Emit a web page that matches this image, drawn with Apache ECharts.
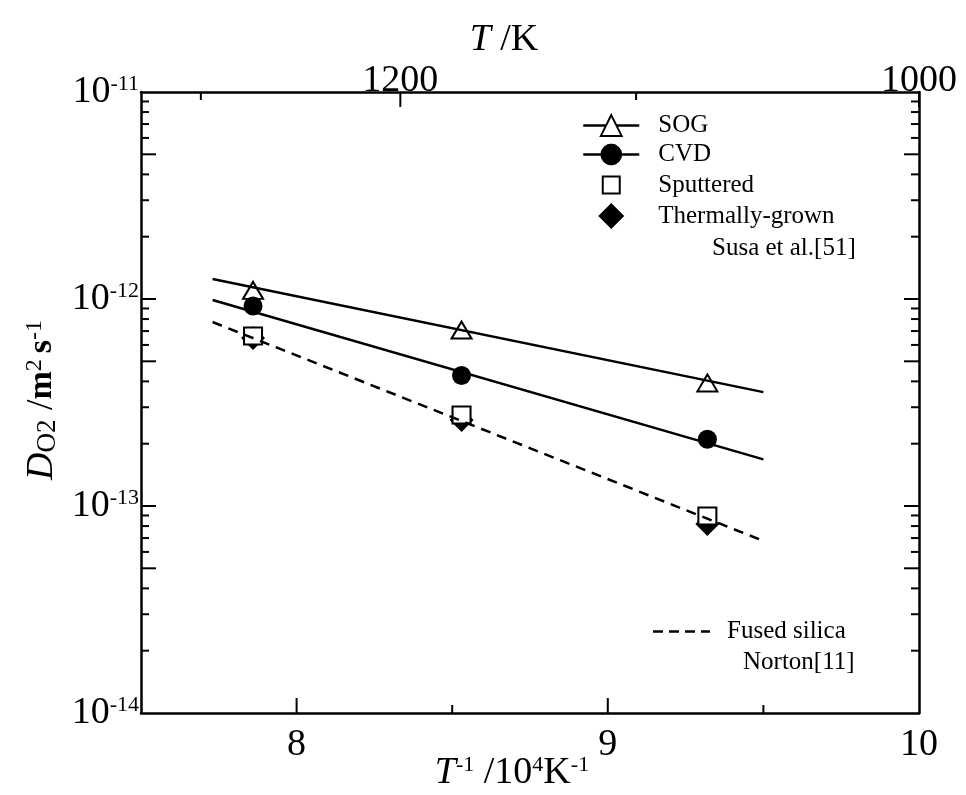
<!DOCTYPE html>
<html>
<head>
<meta charset="utf-8">
<script src="https://cdn.jsdelivr.net/npm/echarts@6/dist/echarts.min.js"></script>
<style>
  html, body { margin: 0; padding: 0; background: #fff; }
  #chart { width: 966px; height: 795px; }
</style>
</head>
<body>
<div id="chart"></div>
<script>
// Measured oxygen diffusivities versus inverse temperature (10^4 / T, K^-1)
const invT = [7.86, 8.53, 9.32];
const sogD = [1.10e-12, 7.08e-13, 3.93e-13];
const cvdD = [9.25e-13, 4.27e-13, 2.10e-13];
const sputteredD = [6.63e-13, 2.75e-13, 8.95e-14];
const thermalD = [6.48e-13, 2.60e-13, 8.19e-14];

// Arrhenius fit lines, given by their end points
const fitInvT = [7.73, 9.5];
const sogFit = [1.25e-12, 3.55e-13];
const cvdFit = [9.89e-13, 1.68e-13];
const fusedSilicaFit = [7.74e-13, 6.78e-14];

// Frame ticks
const xMajorTicks = [8, 9];
const xMinorTicks = [8.5, 9.5];
const tempMajorTicks = [1200, 1000];
const tempMinorTicks = [1300, 1100];
const yDecades = [1e-14, 1e-13, 1e-12];
const yMantissas = [2, 3, 4, 5, 6, 7, 8, 9];

const X_MIN = 7.5, X_MAX = 10, Y_MIN = 1e-14, Y_MAX = 1e-11;
const SERIF = '"Liberation Serif", "Times New Roman", serif';

const pairs = (xs, ys) => xs.map((x, i) => [x, ys[i]]);

// [x, y, side (0 left, 1 right, 2 bottom, 3 top), short?]
const tickData = [];
yDecades.forEach(dec => {
  if (dec > Y_MIN) tickData.push([X_MIN, dec, 0, 0], [X_MAX, dec, 1, 0]);
  yMantissas.forEach(m => {
    const s = m === 5 ? 0 : 1;
    tickData.push([X_MIN, m * dec, 0, s], [X_MAX, m * dec, 1, s]);
  });
});
xMajorTicks.forEach(x => tickData.push([x, Y_MIN, 2, 0]));
xMinorTicks.forEach(x => tickData.push([x, Y_MIN, 2, 1]));
tempMajorTicks.forEach(t => tickData.push([1e4 / t, Y_MAX, 3, 0]));
tempMinorTicks.forEach(t => tickData.push([1e4 / t, Y_MAX, 3, 1]));

const tempLabelData = tempMajorTicks.map(t => [1e4 / t, Y_MAX, t]);

function renderTick(params, api) {
  const p = api.coord([api.value(0), api.value(1)]);
  const side = api.value(2);
  const len = api.value(3) ? 8 : 15;
  let dx = 0, dy = 0;
  if (side === 0) dx = len;
  else if (side === 1) dx = -len;
  else if (side === 2) dy = -len;
  else dy = len;
  return {
    type: 'line',
    shape: { x1: p[0], y1: p[1], x2: p[0] + dx, y2: p[1] + dy },
    style: { stroke: '#000', lineWidth: 2 }
  };
}

function renderTempLabel(params, api) {
  const p = api.coord([api.value(0), api.value(1)]);
  return {
    type: 'text',
    x: p[0], y: p[1] - 11,
    style: {
      text: String(api.value(2)),
      fontFamily: SERIF, fontSize: 38, fill: '#000',
      align: 'center', verticalAlign: 'middle'
    }
  };
}

const squareIcon = 'path://M0,0M26,26M4.5,4.5h17v17h-17z';
const diamondIcon = 'path://M13,0L26,13L13,26L0,13Z';
const dashIcon = 'path://M0,0h10v2.5h-10z M16,0h10v2.5h-10z M32,0h10v2.5h-10z M48,0h9v2.5h-9z';

const chart = echarts.init(document.getElementById('chart'), null, { renderer: 'canvas' });

chart.setOption({
  animation: false,
  backgroundColor: '#fff',
  grid: { left: 141, right: 47, top: 92, bottom: 82 },
  xAxis: [
    {
      type: 'value', position: 'bottom', min: X_MIN, max: X_MAX, interval: 0.5,
      axisLine: { show: true, lineStyle: { color: '#000', width: 2.5 } },
      axisTick: { show: false },
      splitLine: { show: false },
      axisLabel: {
        color: '#000', fontFamily: SERIF, fontSize: 38, margin: 13,
        formatter: v => (Math.abs(v - Math.round(v)) < 1e-9 ? String(Math.round(v)) : '')
      }
    },
    {
      type: 'value', position: 'top', min: X_MIN, max: X_MAX,
      axisLine: { show: true, lineStyle: { color: '#000', width: 2.5 } },
      axisTick: { show: false }, axisLabel: { show: false }, splitLine: { show: false }
    }
  ],
  yAxis: [
    {
      type: 'log', logBase: 10, position: 'left', min: Y_MIN, max: Y_MAX, splitNumber: 3,
      axisLine: { show: true, lineStyle: { color: '#000', width: 2.5 } },
      axisTick: { show: false },
      splitLine: { show: false },
      axisLabel: {
        margin: 2,
        formatter: v => '{b|10}{e|' + Math.round(Math.log10(v)) + '}',
        rich: {
          b: { fontFamily: SERIF, fontSize: 38, color: '#000' },
          e: { fontFamily: SERIF, fontSize: 22, color: '#000', verticalAlign: 'top' }
        }
      }
    },
    {
      type: 'log', logBase: 10, position: 'right', min: Y_MIN, max: Y_MAX,
      axisLine: { show: true, lineStyle: { color: '#000', width: 2.5 } },
      axisTick: { show: false }, axisLabel: { show: false }, splitLine: { show: false }
    }
  ],
  legend: [
    {
      orient: 'vertical', left: 582, top: 113, padding: 0,
      itemWidth: 56, itemHeight: 26, itemGap: 4,
      selectedMode: false,
      textStyle: { fontFamily: SERIF, fontSize: 25, color: '#000', padding: [0, 0, 0, 14] },
      data: [
        { name: 'SOG', itemStyle: { color: '#fff', borderColor: '#000', borderWidth: 2 }, lineStyle: { color: '#000', width: 2.5 } },
        { name: 'CVD', itemStyle: { color: '#000', borderColor: '#000', borderWidth: 1 }, lineStyle: { color: '#000', width: 2.5 } },
        { name: 'Sputtered', icon: squareIcon, itemStyle: { color: '#fff', borderColor: '#000', borderWidth: 2 } },
        { name: 'Thermally-grown', icon: diamondIcon, itemStyle: { color: '#000', borderColor: '#000', borderWidth: 0 } }
      ]
    },
    {
      orient: 'vertical', left: 653, top: 619, padding: 0,
      itemWidth: 57, itemHeight: 26,
      selectedMode: false,
      textStyle: { fontFamily: SERIF, fontSize: 25, color: '#000', padding: [0, 0, 0, 12] },
      data: [
        { name: 'Fused silica', icon: dashIcon, itemStyle: { color: '#000', borderWidth: 0 } }
      ]
    }
  ],
  graphic: [
    {
      type: 'text', x: 504, y: 40,
      style: {
        text: '{i|T}{n| /K}', align: 'center', verticalAlign: 'middle',
        rich: {
          i: { fontFamily: SERIF, fontSize: 38, fontStyle: 'italic', fill: '#000' },
          n: { fontFamily: SERIF, fontSize: 38, fill: '#000' }
        }
      }
    },
    {
      type: 'text', x: 512, y: 773,
      style: {
        text: '{i|T}{s|-1}{n| /10}{s|4}{n|K}{s|-1}', align: 'center', verticalAlign: 'middle',
        rich: {
          i: { fontFamily: SERIF, fontSize: 38, fontStyle: 'italic', fill: '#000' },
          n: { fontFamily: SERIF, fontSize: 38, fill: '#000' },
          s: { fontFamily: SERIF, fontSize: 22, fill: '#000', verticalAlign: 'top' }
        }
      }
    },
    {
      type: 'text', x: 42, y: 400, rotation: Math.PI / 2,
      style: {
        text: '{i|D}{sub|O2}{n| /}{b|m}{sup|2 }{b|s}{sup|-1}', align: 'center', verticalAlign: 'middle',
        rich: {
          i: { fontFamily: SERIF, fontSize: 38, fontStyle: 'italic', fill: '#000' },
          sub: { fontFamily: SERIF, fontSize: 27, fill: '#000', verticalAlign: 'bottom' },
          n: { fontFamily: SERIF, fontSize: 38, fill: '#000' },
          b: { fontFamily: SERIF, fontSize: 34, fontWeight: 'bold', fill: '#000' },
          sup: { fontFamily: SERIF, fontSize: 24, fill: '#000', verticalAlign: 'top' }
        }
      }
    },
    {
      type: 'text', left: 712, top: 236,
      style: { text: 'Susa et al.[51]', fontFamily: SERIF, fontSize: 25, fill: '#000' }
    },
    {
      type: 'text', left: 743, top: 650,
      style: { text: 'Norton[11]', fontFamily: SERIF, fontSize: 25, fill: '#000' }
    }
  ],
  series: [
    {
      name: 'SOG', type: 'line', data: pairs(fitInvT, sogFit),
      symbol: 'triangle', showSymbol: false, silent: true,
      lineStyle: { color: '#000', width: 2.5 },
      itemStyle: { color: '#fff', borderColor: '#000', borderWidth: 2 }
    },
    {
      name: 'CVD', type: 'line', data: pairs(fitInvT, cvdFit),
      symbol: 'circle', showSymbol: false, silent: true,
      lineStyle: { color: '#000', width: 2.5 },
      itemStyle: { color: '#000' }
    },
    {
      name: 'Fused silica', type: 'line', data: pairs(fitInvT, fusedSilicaFit),
      symbol: 'none', silent: true,
      lineStyle: { color: '#000', width: 2.5, type: [10, 7] },
      itemStyle: { color: '#000' }
    },
    {
      name: 'Thermally-grown', type: 'scatter', data: pairs(invT, thermalD),
      symbol: 'diamond', symbolSize: [24, 24], silent: true,
      itemStyle: { color: '#000', opacity: 1 }
    },
    {
      name: 'Sputtered', type: 'scatter', data: pairs(invT, sputteredD),
      symbol: 'rect', symbolSize: [18, 17], silent: true,
      itemStyle: { color: '#fff', borderColor: '#000', borderWidth: 2, opacity: 1 }
    },
    {
      name: 'SOG', type: 'scatter', data: pairs(invT, sogD),
      symbol: 'triangle', symbolSize: [20, 17], silent: true,
      itemStyle: { color: '#fff', borderColor: '#000', borderWidth: 2, opacity: 1 }
    },
    {
      name: 'CVD', type: 'scatter', data: pairs(invT, cvdD),
      symbol: 'circle', symbolSize: 19, silent: true,
      itemStyle: { color: '#000', opacity: 1 }
    },
    {
      name: 'frame ticks', type: 'custom', data: tickData,
      dimensions: ['x', 'y', 'side', 'short'], encode: { x: 0, y: 1 },
      renderItem: renderTick, clip: false, silent: true
    },
    {
      name: 'temperature labels', type: 'custom', data: tempLabelData,
      dimensions: ['x', 'y', 'T'], encode: { x: 0, y: 1 },
      renderItem: renderTempLabel, clip: false, silent: true
    }
  ]
});
</script>
</body>
</html>
